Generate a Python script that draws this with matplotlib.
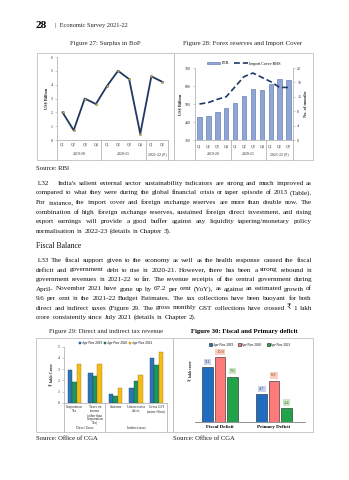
import matplotlib
matplotlib.use('Agg')
import matplotlib.pyplot as plt
from matplotlib.transforms import Affine2D, blended_transform_factory
from matplotlib.lines import Line2D
from matplotlib.patches import Rectangle

W, H = 349, 480
plt.rcParams['font.family'] = ['Liberation Serif', 'DejaVu Serif', 'DejaVu Sans']

# Figure 27: surplus in BoP
bop_quarters = ['Q1', 'Q2', 'Q3', 'Q4', 'Q1', 'Q2', 'Q3', 'Q4', 'Q1', 'Q2']
bop_years = ['2019-20', '2020-21', '2021-22 (P)']
bop_year_len = [4, 4, 2]
bop_surplus = [2.0, 0.7, 3.0, 2.6, 3.9, 5.0, 4.4, 0.45, 4.6, 4.2]

# Figure 28: forex reserves and import cover
fer_quarters = ['Q1', 'Q2', 'Q3', 'Q4', 'Q1', 'Q2', 'Q3', 'Q4', 'Q1', 'Q2', 'Q3']
fer_years = ['2019-20', '2020-21', '2021-22 (P)']
fer_year_len = [4, 4, 3]
fer_reserves = [428, 434, 458, 478, 507, 545, 585, 577, 609, 639, 634]
import_cover = [10.0, 10.4, 11.3, 12.0, 14.8, 17.6, 18.6, 17.4, 16.2, 14.6, 14.6]

# Figure 29: direct and indirect tax revenue
tax_heads = ['Corporation\nTax', 'Taxes on\nincome\n(other than\nCorporation\nTax)',
             'Customs', 'Union excise\nduties', 'Gross GST\n(union+State)']
tax_groups = ['Direct Taxes', 'Indirect taxes']
tax_group_len = [2, 3]
tax_periods = ['Apr-Nov 2019', 'Apr-Nov 2020', 'Apr-Nov 2021']
tax_2019 = [2.92, 2.68, 0.74, 1.28, 3.96]
tax_2020 = [1.82, 2.38, 0.62, 1.93, 3.36]
tax_2021 = [3.50, 3.42, 1.28, 2.44, 4.55]

# Figure 30: fiscal and primary deficit
deficit_heads = ['Fiscal Deficit', 'Primary Deficit']
deficit_periods = ['Apr-Nov 2019', 'Apr-Nov 2020', 'Apr-Nov 2021']
deficit_2019 = [9.1, 4.7]
deficit_2020 = [10.8, 6.9]
deficit_2021 = [7.6, 2.4]

para_132 = [
    "India's salient external sector sustainability indicators are strong and much improved as",
    "compared to what they were during the global financial crisis or taper episode of 2013 (Table).",
    "For instance, the import cover and foreign exchange reserves are more than double now. The",
    "combination of high foreign exchange reserves, sustained foreign direct investment, and rising",
    "export earnings will provide a good buffer against any liquidity tapering/monetary policy",
    "normalisation in 2022-23 (details in Chapter 3).",
]
para_133 = [
    "1.33 The fiscal support given to the economy as well as the health response caused the fiscal",
    "deficit and government debt to rise in 2020-21. However, there has been a strong rebound in",
    "government revenues in 2021-22 so far. The revenue receipts of the central government during",
    "April- November 2021 have gone up by 67.2 per cent (YoY), as against an estimated growth of",
    "9.6 per cent in the 2021-22 Budget Estimates. The tax collections have been buoyant for both",
    "direct and indirect taxes (Figure 29. The gross monthly GST collections have crossed \u20b9 1 lakh",
    "crore consistently since July 2021 (details in Chapter 2).",
]

NAVY = '#1F3864'
GREY = '#A6A6A6'
TXT = '#262626'
INK = '#111111'
TICK = 2.8
BODY = 5.1

fig = plt.figure(figsize=(W / 100, H / 100), dpi=100)
fig.patch.set_facecolor('white')
pix = Affine2D().scale(1 / W, -1 / H).translate(0, 1) + fig.transFigure
renderer = fig.canvas.get_renderer()


def panel(l, t, r, b):
    return fig.add_axes([l / W, 1 - b / H, (r - l) / W, (b - t) / H])


def ptext(x, y, s, **kw):
    kw.setdefault('color', TXT)
    return fig.text(x, y, s, transform=pix, **kw)


def box(l, t, r, b):
    fig.add_artist(Rectangle((l, t), r - l, b - t, transform=pix, fill=False,
                             ec='#BFBFBF', lw=0.6))


def put_line(line, y, x0=36, x1=312, justify=True, size=BODY):
    # lay the words out one by one so the line fills x0..x1
    words = line.split()
    arts = [ptext(0, 0, w, fontsize=size, va='baseline', color=INK) for w in words]
    widths = [a.get_window_extent(renderer).width for a in arts]
    if justify and len(words) > 1:
        gap = (x1 - x0 - sum(widths)) / (len(words) - 1)
    else:
        gap = size * 100 / 72 * 0.25
    x = x0
    for a, w in zip(arts, widths):
        a.set_position((x, y + 2))
        x += w + gap


def style_axis(ax):
    for s in ['top', 'right']:
        ax.spines[s].set_visible(False)
    for s in ['left', 'bottom']:
        ax.spines[s].set_color(GREY)
        ax.spines[s].set_linewidth(0.5)
    ax.tick_params(axis='both', labelsize=TICK, colors=TXT, length=1.5, width=0.4, pad=1.5)
    ax.tick_params(axis='both', color=GREY)


def ax_bottom_px(ax):
    return (1 - ax.get_position().y0) * H


def group_axis(ax, labels, groups, group_len, y_lab, y_grp, y_end, size=TICK, linespacing=1.0):
    # two-level category axis: item labels, then group labels between separators
    tr = blended_transform_factory(ax.transData, pix)
    ax.set_xticks([])
    for i, lab in enumerate(labels):
        ax.text(i, y_lab, lab, transform=tr, ha='center', va='top', fontsize=size,
                color=TXT, linespacing=linespacing)
    edges = [-0.5]
    for g in group_len:
        edges.append(edges[-1] + g)
    for e in edges:
        ax.add_artist(Line2D([e, e], [ax_bottom_px(ax), y_end], transform=tr,
                             color=GREY, lw=0.5, clip_on=False))
    for k, g in enumerate(groups):
        mid = (edges[k] + edges[k + 1]) / 2
        ax.text(mid, y_grp, g, transform=tr, ha='center', va='center', fontsize=size, color=TXT)


# page header
ptext(36, 26, '28', fontsize=8, fontweight='bold', va='center', color='black')
ptext(55, 26, '|  Economic Survey 2021-22', fontsize=4.6, va='center')

# figure titles
ptext(105, 43, 'Figure 27: Surplus in BoP', fontsize=4.9, ha='center', va='center')
ptext(243, 43, 'Figure 28: Forex reserves and Import Cover', fontsize=4.9, ha='center', va='center')
box(37, 53, 174, 160)
box(174, 53, 313, 160)

# Figure 27
ax = panel(57, 57, 168, 140)
xq = range(len(bop_surplus))
ax.plot(xq, bop_surplus, color=NAVY, lw=1.3, zorder=2)
ax.scatter(xq, bop_surplus, s=2.5, color='#C8B560', edgecolor='#5A5A2A', lw=0.3, zorder=3)
ax.set_ylim(0, 6)
ax.set_yticks(range(0, 7))
ax.set_xlim(-0.5, len(bop_surplus) - 0.5)
style_axis(ax)
ax.set_ylabel('US$ Billion', fontsize=3.2, fontweight='bold', labelpad=2, color=TXT)
group_axis(ax, bop_quarters, bop_years, bop_year_len, 143, 154, 160)

# Figure 28
ax = panel(195, 68, 293, 140)
xf = range(len(fer_reserves))
ax.bar(xf, fer_reserves, width=0.5, color='#8EA5D6', edgecolor='#4F6FA8', lw=0.4,
       label='FER', zorder=2)
ax.set_ylim(300, 700)
ax.set_yticks(range(300, 701, 100))
ax.set_xlim(-0.5, len(fer_reserves) - 0.5)
style_axis(ax)
ax.set_ylabel('US$ Billion', fontsize=3.2, fontweight='bold', labelpad=2, color=TXT)
ax2 = ax.twinx()
ax2.plot(xf, import_cover, color=NAVY, lw=1.2, ls=(0, (3.5, 1.8)), label='Import Cover-RHS')
ax2.set_ylim(0, 20)
ax2.set_yticks(range(0, 21, 4))
for s in ['top', 'left', 'bottom']:
    ax2.spines[s].set_visible(False)
ax2.spines['right'].set_color(GREY)
ax2.spines['right'].set_linewidth(0.5)
ax2.tick_params(axis='y', labelsize=TICK, colors=TXT, color=GREY, length=1.5, width=0.4, pad=1.5)
ax2.set_ylabel('No. of months', fontsize=3.2, fontweight='bold', labelpad=2, color=TXT)
h1, l1 = ax.get_legend_handles_labels()
h2, l2 = ax2.get_legend_handles_labels()
ax.legend(h1 + h2, l1 + l2, loc='lower center', bbox_to_anchor=(0.5, 1.0), ncol=2,
          fontsize=3.0, frameon=False, handlelength=3.2, handleheight=0.6,
          columnspacing=1.2, handletextpad=0.4, borderaxespad=0.2)
group_axis(ax, fer_quarters, fer_years, fer_year_len, 145, 154, 160)

ptext(36, 168, 'Source: RBI', fontsize=4.8, va='center', color=INK)

# body text
ptext(36, 184.7, '1.32', fontsize=BODY, va='baseline', color=INK)
put_line(para_132[0], 182.7, x0=58)
for i, line in enumerate(para_132[1:], start=1):
    put_line(line, 182.7 + 9.65 * i, justify=(i < len(para_132) - 1))
ptext(36, 246.5, 'Fiscal Balance', fontsize=5.6, va='center', color=INK)
for i, line in enumerate(para_133):
    put_line(line, 260 + 9.5 * i, justify=(i < len(para_133) - 1))

# lower figure titles
ptext(106, 332, 'Figure 29: Direct and indirect tax revenue', fontsize=4.9, ha='center', va='center')
ptext(244, 332, 'Figure 30: Fiscal and Primary deficit', fontsize=4.9, ha='center', va='center',
      fontweight='bold', color='black')
box(36, 338, 173, 432)
box(173, 338, 313, 432)

# Figure 29
ax = panel(64, 346.7, 167, 402.7)
xt = list(range(len(tax_heads)))
bw = 0.22
tax_colors = ['#2E75B6', '#1E9460', '#F5BC18']
tax_edges = ['#1B4A7A', '#0F5C38', '#A87E08']
for k, (vals, lab) in enumerate(zip([tax_2019, tax_2020, tax_2021], tax_periods)):
    ax.bar([x + (k - 1) * bw for x in xt], vals, width=bw, color=tax_colors[k],
           edgecolor=tax_edges[k], lw=0.3, label=lab)
ax.set_ylim(0, 5)
ax.set_yticks(range(0, 6))
ax.set_xlim(-0.5, len(tax_heads) - 0.5)
style_axis(ax)
ax.set_ylabel('\u20b9 lakh Crore', fontsize=3.0, fontweight='bold', labelpad=3, color=TXT)
ax.legend(loc='lower center', bbox_to_anchor=(0.5, 1.0), ncol=3, fontsize=2.5, frameon=False,
          handlelength=0.7, handleheight=0.7, handletextpad=0.2, columnspacing=0.5,
          borderaxespad=0.1)
group_axis(ax, tax_heads, tax_groups, tax_group_len, 405, 428, 432, size=2.5, linespacing=0.95)

# Figure 30
ax = panel(195, 350, 305, 422.3)
xd = list(range(len(deficit_heads)))
dw, step = 0.19, 0.23
def_colors = ['#1F6CC0', '#FF7B7B', '#22A24A']
def_label_bg = ['#C9D5EC', '#F9CFC0', '#CFE6C6']
def_label_fg = ['#2F4A7A', '#8A3B2E', '#2E5E2E']
for k, (vals, lab) in enumerate(zip([deficit_2019, deficit_2020, deficit_2021], deficit_periods)):
    xs = [x + (k - 1) * step for x in xd]
    ax.bar(xs, vals, width=dw, color=def_colors[k], edgecolor='#202020', lw=0.4, label=lab)
    for x, v in zip(xs, vals):
        ax.text(x, v + 0.55, f'{v:.1f}', ha='center', va='bottom', fontsize=3.2,
                color=def_label_fg[k],
                bbox=dict(boxstyle='square,pad=0.25', fc=def_label_bg[k], ec='none'))
ax.set_ylim(0, 12)
ax.set_xlim(-0.463, 1.574)
for s in ['top', 'right', 'left']:
    ax.spines[s].set_visible(False)
ax.spines['bottom'].set_color('#7F7F7F')
ax.spines['bottom'].set_linewidth(0.6)
ax.set_yticks([])
ax.set_xticks(xd)
ax.set_xticklabels(deficit_heads, fontsize=3.6, fontweight='bold')
ax.tick_params(axis='x', length=0, pad=2)
ax.set_ylabel('\u20b9 lakh crore', fontsize=2.8, fontweight='bold', labelpad=1, color=TXT)
ax.yaxis.set_label_coords(-0.02, 0.72)
ax.legend(loc='lower center', bbox_to_anchor=(0.5, 1.02), ncol=3, fontsize=2.5, frameon=False,
          handlelength=0.7, handleheight=0.7, handletextpad=0.2, columnspacing=1.6,
          borderaxespad=0.1)

ptext(36, 438, 'Source: Office of CGA', fontsize=4.8, va='center', color=INK)
ptext(173, 438, 'Source: Office of CGA', fontsize=4.8, va='center', color=INK)

fig.savefig('out.png', dpi=100, facecolor='white')
